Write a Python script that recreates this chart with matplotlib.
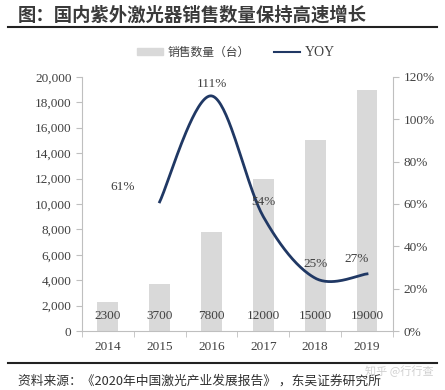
import matplotlib
matplotlib.use("Agg")
import matplotlib.pyplot as plt
import numpy as np
from matplotlib.lines import Line2D
from matplotlib.patches import Patch

years = ["2014", "2015", "2016", "2017", "2018", "2019"]
sales = [2300, 3700, 7800, 12000, 15000, 19000]
yoy_years = ["2015", "2016", "2017", "2018", "2019"]
yoy = [61, 111, 54, 25, 27]

CJK = ["Noto Sans CJK SC", "DejaVu Sans"]
SERIF = ["Liberation Serif", "Noto Sans CJK SC"]
TXT = "#404040"
BAR = "#d9d9d9"
LINE = "#203864"


def catmull(xs, ys, n=40):
    # сглаженная линия как в Excel
    xs = np.asarray(xs, float); ys = np.asarray(ys, float)
    px = np.r_[xs[0], xs, xs[-1]]; py = np.r_[ys[0], ys, ys[-1]]
    ox, oy = [], []
    for i in range(1, len(px) - 2):
        t = np.linspace(0, 1, n)
        for p, o in ((px, ox), (py, oy)):
            p0, p1, p2, p3 = p[i-1], p[i], p[i+1], p[i+2]
            o.extend(0.5 * (2*p1 + (-p0+p2)*t + (2*p0-5*p1+4*p2-p3)*t**2 + (-p0+3*p1-3*p2+p3)*t**3))
    return np.array(ox), np.array(oy)


fig = plt.figure(figsize=(4.45, 3.90), dpi=100)
ax = fig.add_axes([0.184, 0.151, 0.699, 0.652])
x = np.arange(len(years))
ax.bar(x, sales, 0.4, color=BAR, zorder=1)
for i, v in enumerate(sales):
    ax.text(i, 700, f"{v}", ha="center", va="bottom", fontsize=9.5, color=TXT, family=SERIF, zorder=5)
ax.set_xlim(-0.5, 5.5)
ax.set_ylim(0, 20000)
ax.set_yticks(range(0, 20001, 2000))
ax.set_yticklabels([f"{v:,}" for v in range(0, 20001, 2000)])
ax.set_xticks(x)
ax.set_xticklabels(years)
ax.set_xticks(np.arange(-0.5, 6, 1), minor=True)
for s in ["top", "right"]:
    ax.spines[s].set_visible(False)
for s in ["left", "bottom"]:
    ax.spines[s].set_color("#bfbfbf")
ax.tick_params(axis="y", colors="#bfbfbf", labelcolor=TXT, length=4, labelsize=9.5)
ax.tick_params(axis="x", which="major", length=0, labelcolor=TXT, labelsize=9.5, pad=7)
ax.tick_params(axis="x", which="minor", length=4, color="#bfbfbf")
for lab in ax.get_xticklabels() + ax.get_yticklabels():
    lab.set_family(SERIF)

ax2 = ax.twinx()
ax2.set_ylim(0, 120)
ax2.set_yticks(range(0, 121, 20))
ax2.set_yticklabels([f"{v}%" for v in range(0, 121, 20)])
for s in ["top", "left", "bottom"]:
    ax2.spines[s].set_visible(False)
ax2.spines["right"].set_color("#bfbfbf")
ax2.tick_params(axis="y", colors="#bfbfbf", labelcolor=TXT, length=4, labelsize=9.5)
for lab in ax2.get_yticklabels():
    lab.set_family(SERIF)

yx = [years.index(y) for y in yoy_years]
sx, sy = catmull(yx, yoy)
ax2.plot(sx, sy, color=LINE, lw=2, zorder=4)
offs = [(-0.72, 4), (0, 3), (0, 4), (0, 4), (-0.2, 4)]
for (xi, v), (dx, dy) in zip(zip(yx, yoy), offs):
    ax2.text(xi + dx, v + dy, f"{v}%", ha="center", va="bottom", fontsize=9.5, color=TXT, family=SERIF, zorder=5)

handles = [Patch(color=BAR), Line2D([], [], color=LINE, lw=1.5)]
leg = fig.legend(handles, ["销售数量（台）", "YOY"], loc="center", bbox_to_anchor=(0.53, 0.866),
                 ncol=2, frameon=False, fontsize=8.5, handlelength=2.2, handleheight=0.6,
                 columnspacing=2.0, handletextpad=0.4)
for t in leg.get_texts():
    t.set_family(CJK); t.set_color(TXT)
leg.get_texts()[1].set_family(SERIF)
leg.get_texts()[1].set_fontsize(10)

fig.text(0.04, 0.962, "图：国内紫外激光器销售数量保持高速增长", fontsize=13.2, fontweight="bold",
         color="#3a3a3a", family=CJK, va="center")
fig.add_artist(Line2D([0.018, 0.982], [0.931, 0.931], color="#222222", lw=1.5))
fig.add_artist(Line2D([0.018, 0.982], [0.069, 0.069], color="#222222", lw=1.5))
fig.text(0.04, 0.023, "资料来源：《2020年中国激光产业发展报告》 ，东吴证券研究所", fontsize=9.2,
         color="#303030", family=CJK, va="center")
fig.text(0.975, 0.048, "知乎 @行行查", fontsize=8, color="#d0d0d0", family=CJK, ha="right", va="center")

fig.savefig("out.png", dpi=100)
